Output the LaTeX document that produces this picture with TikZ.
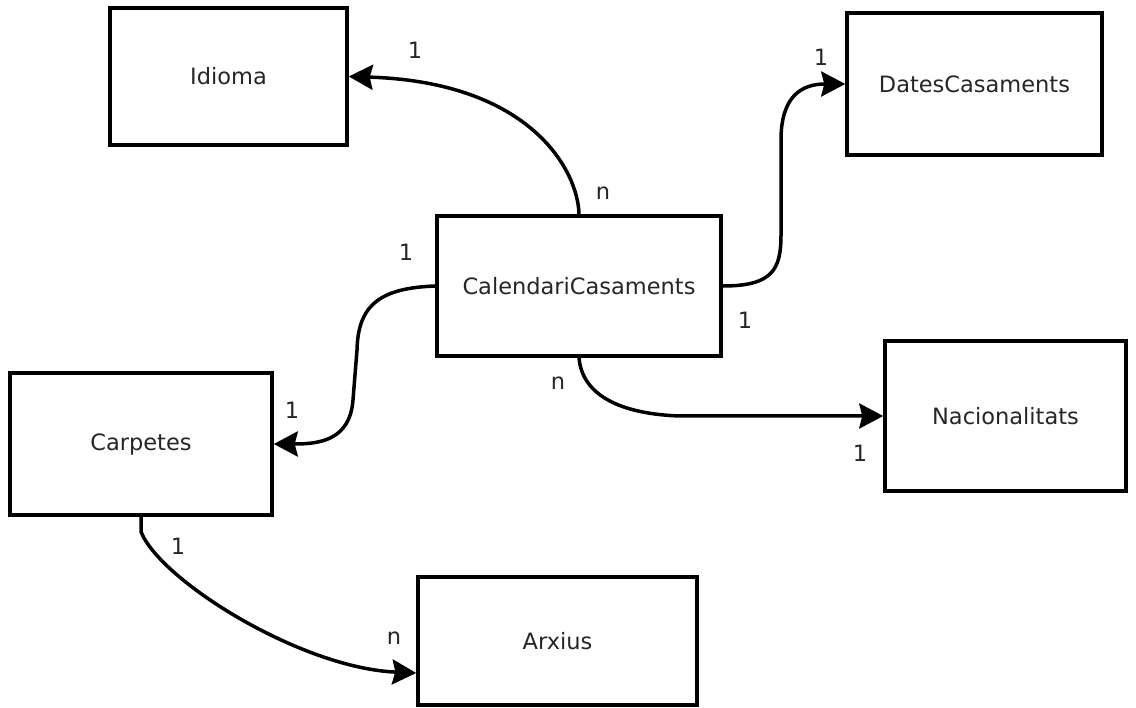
\documentclass[tikz,border=0pt]{standalone}
\usepackage{fontspec}
\setmainfont{DejaVu Sans}
\usetikzlibrary{arrows.meta}
\begin{document}
\begin{tikzpicture}[x=1pt,y=-1pt,
  entity/.style={draw=black, line width=3.5pt, rectangle, inner sep=0pt, font=\fontsize{22.5}{26}\selectfont, text=black!85},
  rel/.style={line width=3.5pt, -{Stealth[length=24pt,width=25pt,inset=3pt]}},
  card/.style={font=\fontsize{22.5}{26}\selectfont, text=black!85, inner sep=0pt}]
\useasboundingbox (0,0) rectangle (1136,708);
\fill[white] (0,0) rectangle (1136,708);
\node[entity, minimum width=237pt, minimum height=137pt] (idioma) at (228.5,76.5) {Idioma};
\node[entity, minimum width=255pt, minimum height=142pt] (dates) at (974.5,84) {DatesCasaments};
\node[entity, minimum width=284pt, minimum height=140pt] (cal) at (579,286) {CalendariCasaments};
\node[entity, minimum width=262pt, minimum height=142pt] (carp) at (141,444) {Carpetes};
\node[entity, minimum width=241pt, minimum height=150pt] (nac) at (1005.5,416) {Nacionalitats};
\node[entity, minimum width=279pt, minimum height=128pt] (arx) at (557.5,641) {Arxius};

\draw[rel] (cal.north) .. controls (578,170) and (530,82) .. (idioma.east);
\draw[rel] (cal.east) .. controls (772,286) and (781,270) .. (781,235) -- (781,140) .. controls (781,98) and (800,84) .. (dates.west);
\draw[rel] (cal.west) .. controls (380,288) and (358,305) .. (357,350) -- (353,400) .. controls (350,440) and (320,444) .. (carp.east);
\draw[rel] (cal.south) .. controls (582,395) and (620,414) .. (680,416) -- (nac.west);
\draw[rel] (carp.south) -- ++(0,15) .. controls (160,580) and (300,668) .. ([yshift=-32pt]arx.west);

\node[card] (c1) at (415,50) {1};
\node[card] (c2) at (603,193) {n};
\node[card] (c3) at (821,57) {1};
\node[card] (c4) at (745,320) {1};
\node[card] (c5) at (406,252) {1};
\node[card] (c6) at (292,410) {1};
\node[card] (c7) at (558,383) {n};
\node[card] (c8) at (860,453) {1};
\node[card] (c9) at (178,546) {1};
\node[card] (c10) at (394,638) {n};
\end{tikzpicture}
\end{document}
